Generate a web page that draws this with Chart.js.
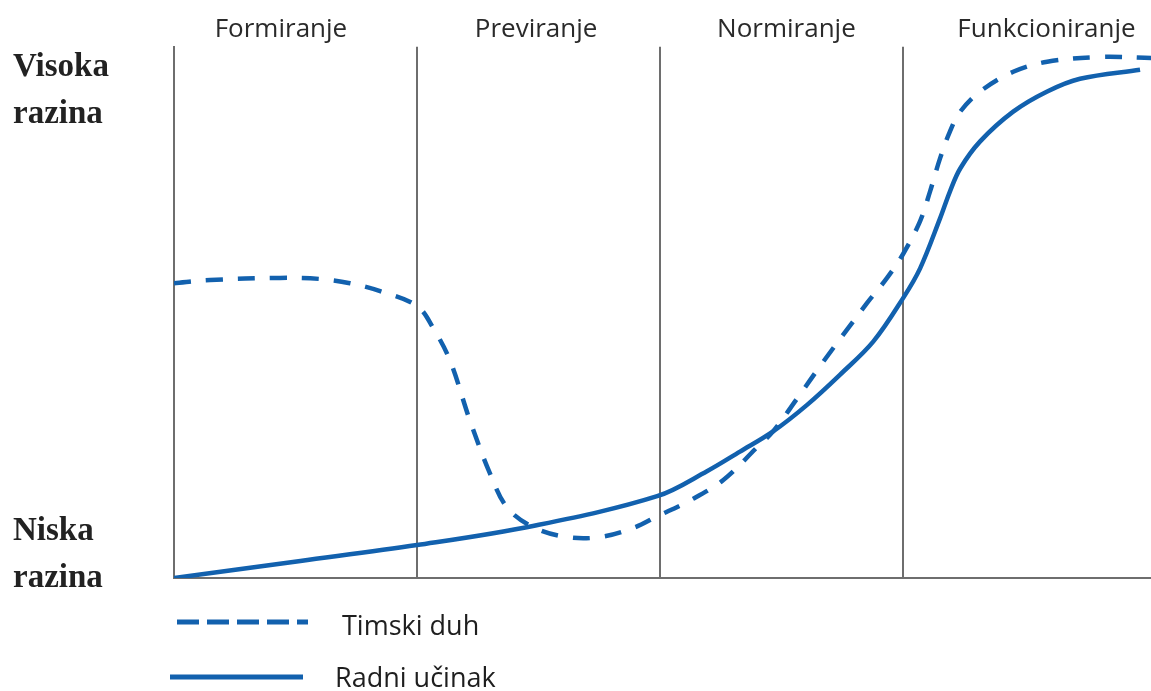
<!DOCTYPE html>
<html><head><meta charset="utf-8">
<script src="https://cdn.jsdelivr.net/npm/chart.js@4/dist/chart.umd.min.js"></script>
<style>html,body{margin:0;padding:0;background:#fff;overflow:hidden}#wrap{width:1151px;height:691px;position:relative}</style>
</head><body><div id="wrap"><canvas id="c" width="1151" height="691"></canvas></div>
<script>
// Stage names (top labels) and where they sit along the x axis (stage units)
const stageNames = ['Formiranje', 'Previranje', 'Normiranje', 'Funkcioniranje'];
const stageLabelPos = [0.44, 1.49, 2.52, 3.59];
const stageBounds = [1, 2, 3];
// Level labels on the y axis
const levelLabels = [['Niska', 'razina'], ['Visoka', 'razina']];
const levelPos = [4.4, 91.7];
// Series: Timski duh (dashed)
const teamX = [0, 0.148, 0.436, 0.601, 0.724, 0.848, 1.0, 1.066, 1.136, 1.218, 1.300, 1.370, 1.477, 1.617, 1.753, 1.889, 1.988, 2.123, 2.259, 2.399, 2.465, 2.564, 2.671, 2.770, 2.852, 2.934, 3.0, 3.070, 3.111, 3.152, 3.193, 3.235, 3.317, 3.453, 3.593, 3.811, 4.021];
const teamY = [55.5, 56.1, 56.5, 56.3, 55.5, 54.0, 51.2, 47.1, 40.9, 29.6, 19.7, 13.3, 9.6, 7.7, 7.7, 9.4, 11.6, 14.6, 18.4, 24.6, 27.6, 33.8, 40.7, 46.8, 51.8, 56.5, 61.0, 67.2, 72.8, 79.0, 84.1, 87.8, 91.6, 95.3, 97.2, 98.1, 97.9];
// Series: Radni učinak (solid)
const perfX = [0, 0.52, 1.0, 1.477, 1.988, 2.193, 2.329, 2.465, 2.605, 2.741, 2.877, 3.0, 3.070, 3.152, 3.193, 3.235, 3.317, 3.453, 3.593, 3.728, 3.975];
const perfY = [0, 3.2, 6.2, 9.8, 15.4, 20.1, 23.8, 27.6, 32.6, 38.3, 44.5, 52.7, 58.3, 67.7, 72.8, 77.1, 82.2, 87.8, 91.6, 94.0, 95.7];
const seriesNames = ['Timski duh', 'Radni učinak'];

const BLUE = '#1261ae';
const GRAY = '#6e6e6e';

const legendPlugin = {
  id: 'sideLegend',
  afterDraw(chart) {
    const ctx = chart.ctx;
    const rows = [
      { ds: 0, x0: 177, x1: 308, y: 622, tx: 342, ty: 635 },
      { ds: 1, x0: 170, x1: 303, y: 677, tx: 335, ty: 687 }
    ];
    ctx.save();
    rows.forEach(r => {
      const d = chart.data.datasets[r.ds];
      ctx.strokeStyle = d.borderColor;
      ctx.lineWidth = 5;
      ctx.lineCap = 'butt';
      ctx.setLineDash(d.borderDash && d.borderDash.length ? [22, 8] : []);
      ctx.beginPath();
      ctx.moveTo(r.x0, r.y);
      ctx.lineTo(r.x1, r.y);
      ctx.stroke();
      ctx.setLineDash([]);
      ctx.fillStyle = '#1e1e1e';
      ctx.font = '27px "Open Sans"';
      ctx.textAlign = 'left';
      ctx.textBaseline = 'alphabetic';
      ctx.fillText(d.label, r.tx, r.ty);
    });
    ctx.restore();
  }
};

new Chart(document.getElementById('c'), {
  type: 'line',
  data: {
    datasets: [
      {
        label: seriesNames[0],
        data: teamX.map((x, i) => ({ x, y: teamY[i] })),
        borderColor: BLUE, borderWidth: 4.5, borderDash: [17, 15],
        pointRadius: 0, fill: false, tension: 0.35
      },
      {
        label: seriesNames[1],
        data: perfX.map((x, i) => ({ x, y: perfY[i] })),
        borderColor: BLUE, borderWidth: 4.5, borderDash: [],
        pointRadius: 0, fill: false, tension: 0.35
      }
    ]
  },
  options: {
    responsive: false,
    devicePixelRatio: 1,
    animation: false,
    layout: { padding: { left: 13, top: 0, right: 0, bottom: 0 } },
    plugins: { legend: { display: false }, tooltip: { enabled: false } },
    scales: {
      x: {
        type: 'linear', position: 'bottom', min: 0, max: 4.02,
        ticks: { display: false },
        grid: { color: GRAY, lineWidth: 2, drawTicks: false },
        border: { display: true, color: GRAY, width: 2 },
        afterBuildTicks: s => { s.ticks = stageBounds.map(v => ({ value: v })); },
        afterFit: s => { s.height = 113; }
      },
      x2: {
        type: 'linear', position: 'top', min: 0, max: 4.02,
        grid: { display: false, drawTicks: false },
        border: { display: false },
        ticks: {
          autoSkip: false, maxRotation: 0, padding: 2,
          color: '#2a2a2a', font: { family: 'Open Sans', size: 26 },
          callback: (v, i) => stageNames[i]
        },
        afterBuildTicks: s => { s.ticks = stageLabelPos.map(v => ({ value: v })); },
        afterFit: s => { s.height = 45; }
      },
      y: {
        type: 'linear', position: 'left', min: 0, max: 100,
        grid: { display: false, drawTicks: false },
        border: { display: true, color: GRAY, width: 2 },
        ticks: {
          crossAlign: 'far', padding: 0, color: '#222',
          font: { family: 'Liberation Serif', size: 33, weight: 'bold', lineHeight: 1.42 },
          callback: (v, i) => levelLabels[i]
        },
        afterBuildTicks: s => { s.ticks = levelPos.map(v => ({ value: v })); },
        afterFit: s => { s.width = 161; }
      }
    }
  },
  plugins: [legendPlugin]
});
</script>
</body></html>
